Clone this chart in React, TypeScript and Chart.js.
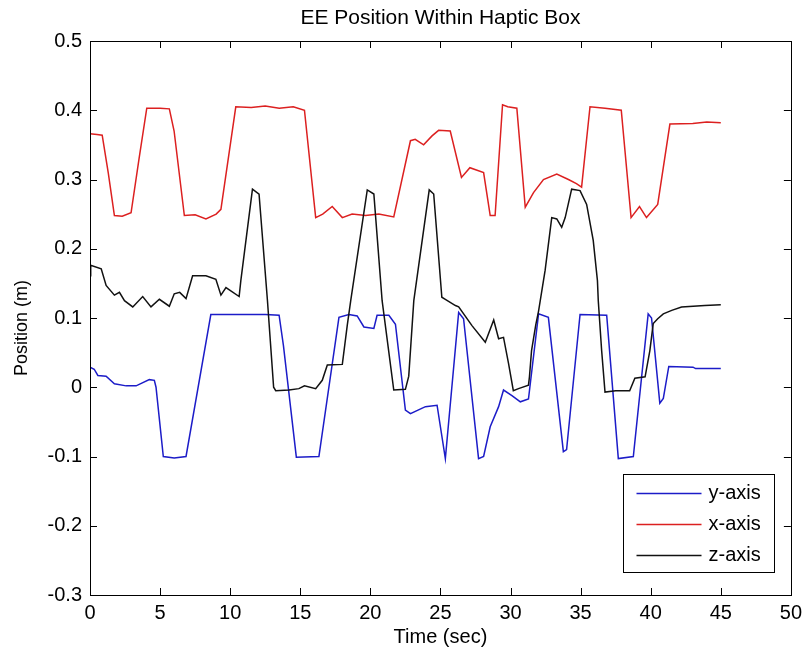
import React, { useEffect, useRef } from "react";
import { Chart, registerables } from "chart.js";

Chart.register(...registerables);

const TITLE = "EE Position Within Haptic Box";
const X_LABEL = "Time (sec)";
const Y_LABEL = "Position (m)";
const SERIES_NAMES = ["y-axis", "x-axis", "z-axis"];
const SERIES_COLORS = ["#1c1cc8", "#dc2020", "#111111"];

// y-axis (blue)
const yAxisTimes = [0, 0.3, 0.56, 1.15, 1.74, 2.58, 3.29, 4.23, 4.59, 4.71, 5.23, 6.01, 6.85, 8.62, 10.76, 12.5, 13.49, 13.8, 14.72, 16.33, 17.76, 18.47, 19.06, 19.54, 20.25, 20.48, 21.32, 21.79, 22.5, 22.86, 23.93, 24.76, 25.35, 26.3, 26.65, 27.72, 28.08, 28.55, 29.15, 29.5, 30.1, 30.7, 31.28, 32.0, 32.7, 33.77, 34.0, 34.96, 36.86, 37.69, 38.76, 39.82, 40.06, 40.65, 40.9, 41.29, 43.02, 43.2, 45.0];
const yAxisValues = [0.029, 0.026, 0.017, 0.016, 0.005, 0.002, 0.002, 0.011, 0.01, 0.0, -0.1, -0.102, -0.1, 0.105, 0.105, 0.105, 0.104, 0.06, -0.101, -0.1, 0.101, 0.105, 0.103, 0.087, 0.085, 0.104, 0.104, 0.091, -0.033, -0.038, -0.028, -0.026, -0.103, 0.108, 0.099, -0.103, -0.1, -0.057, -0.028, -0.004, -0.012, -0.021, -0.017, 0.106, 0.101, -0.093, -0.09, 0.105, 0.104, -0.103, -0.1, 0.106, 0.1, -0.023, -0.016, 0.03, 0.029, 0.027, 0.027];

// x-axis (red)
const xAxisTimes = [0, 0.5, 0.87, 1.3, 1.74, 2.3, 2.93, 3.5, 4.05, 5.0, 5.66, 6.0, 6.73, 7.5, 8.27, 9.0, 9.34, 10.4, 11.5, 12.5, 13.5, 14.5, 15.3, 16.1, 16.6, 17.28, 18.0, 18.7, 19.66, 20.6, 21.67, 22.86, 23.2, 23.8, 24.4, 24.87, 25.7, 26.5, 27.1, 28.08, 28.55, 28.9, 29.43, 29.8, 30.45, 31.05, 31.64, 32.35, 33.3, 34.13, 34.7, 35.07, 35.67, 36.74, 37.9, 38.6, 39.2, 39.7, 40.5, 41.37, 43.0, 44.0, 45.0];
const xAxisValues = [0.366, 0.365, 0.364, 0.31, 0.248, 0.247, 0.252, 0.33, 0.403, 0.403, 0.402, 0.37, 0.248, 0.249, 0.243, 0.25, 0.257, 0.405, 0.404, 0.406, 0.403, 0.405, 0.4, 0.245, 0.25, 0.261, 0.245, 0.25, 0.248, 0.25, 0.246, 0.356, 0.358, 0.35, 0.363, 0.371, 0.37, 0.303, 0.317, 0.31, 0.248, 0.248, 0.408, 0.405, 0.403, 0.26, 0.281, 0.3, 0.308, 0.3, 0.294, 0.289, 0.405, 0.403, 0.4, 0.245, 0.261, 0.245, 0.264, 0.38, 0.381, 0.383, 0.382];

// z-axis (black)
const zAxisTimes = [0, 0.05, 0.8, 1.15, 1.74, 2.1, 2.46, 3.05, 3.76, 4.35, 4.95, 5.66, 6.01, 6.4, 6.85, 7.32, 8.27, 8.98, 9.34, 9.7, 10.64, 10.76, 11.59, 12.06, 12.66, 13.1, 13.25, 14.2, 14.9, 15.3, 16.1, 16.57, 16.93, 18.0, 18.35, 18.6, 19.78, 20.25, 20.84, 21.67, 22.5, 22.74, 23.1, 24.2, 24.52, 25.1, 25.35, 26.07, 26.3, 27.25, 28.2, 28.8, 29.15, 29.5, 29.86, 30.2, 30.57, 31.28, 31.35, 31.5, 31.8, 32.0, 32.47, 32.94, 33.3, 33.65, 33.9, 34.36, 34.96, 35.43, 35.9, 36.2, 36.26, 36.5, 36.74, 37.5, 38.5, 38.87, 39.6, 39.94, 40.18, 40.5, 40.9, 41.5, 42.2, 43.86, 45.0];
const zAxisValues = [0.161, 0.176, 0.171, 0.147, 0.133, 0.137, 0.125, 0.116, 0.131, 0.116, 0.127, 0.117, 0.135, 0.137, 0.128, 0.161, 0.161, 0.156, 0.133, 0.144, 0.131, 0.154, 0.286, 0.279, 0.125, 0.0, -0.005, -0.004, -0.002, 0.002, -0.002, 0.01, 0.032, 0.033, 0.089, 0.125, 0.285, 0.279, 0.125, -0.004, -0.003, 0.016, 0.125, 0.285, 0.279, 0.13, 0.127, 0.118, 0.116, 0.089, 0.065, 0.097, 0.07, 0.072, 0.034, -0.005, -0.002, 0.003, 0.015, 0.053, 0.09, 0.11, 0.169, 0.245, 0.243, 0.231, 0.245, 0.286, 0.284, 0.264, 0.212, 0.154, 0.125, 0.053, -0.007, -0.005, -0.005, 0.013, 0.015, 0.053, 0.092, 0.099, 0.106, 0.111, 0.116, 0.118, 0.119];

const X_MIN = 0, X_MAX = 50, X_STEP = 5;
const Y_MIN = -0.3, Y_MAX = 0.5, Y_STEP = 0.1;

const FONT = "'Liberation Sans', Arial, Helvetica, sans-serif";

function pts(t: number[], v: number[]) {
  return t.map((x, i) => ({ x, y: v[i] }));
}

export default function App() {
  const ref = useRef<HTMLCanvasElement>(null);
  useEffect(() => {
    const canvas = ref.current!;
    const framePlugin = {
      id: "matlabFrame",
      afterDraw(chart: any) {
        const { ctx, chartArea: a, scales } = chart;
        ctx.save();
        ctx.strokeStyle = "#000";
        ctx.lineWidth = 1;
        ctx.beginPath();
        const tl = 7;
        scales.x.ticks.forEach((t: any) => {
          const px = Math.round(scales.x.getPixelForValue(t.value)) + 0.5;
          ctx.moveTo(px, a.bottom); ctx.lineTo(px, a.bottom - tl);
          ctx.moveTo(px, a.top); ctx.lineTo(px, a.top + tl);
        });
        scales.y.ticks.forEach((t: any) => {
          const py = Math.round(scales.y.getPixelForValue(t.value)) + 0.5;
          ctx.moveTo(a.left, py); ctx.lineTo(a.left + tl, py);
          ctx.moveTo(a.right, py); ctx.lineTo(a.right - tl, py);
        });
        ctx.stroke();
        ctx.strokeRect(Math.round(a.left) + 0.5, Math.round(a.top) + 0.5, Math.round(a.right - a.left), Math.round(a.bottom - a.top));
        // title
        ctx.fillStyle = "#000";
        ctx.font = `21px ${FONT}`;
        ctx.textAlign = "center";
        ctx.textBaseline = "middle";
        ctx.fillText(TITLE, (a.left + a.right) / 2, 18);
        // y label
        ctx.save();
        ctx.translate(22, (a.top + a.bottom) / 2 + 10);
        ctx.rotate(-Math.PI / 2);
        ctx.font = `18px ${FONT}`;
        ctx.fillText(Y_LABEL, 0, 0);
        ctx.restore();
        // legend
        const bw = 151, bh = 98;
        const bx = Math.round(a.right - 17 - bw) + 0.5;
        const by = Math.round(a.bottom - 23 - bh) + 0.5;
        ctx.fillStyle = "#fff";
        ctx.fillRect(bx, by, bw, bh);
        ctx.strokeStyle = "#000";
        ctx.strokeRect(bx, by, bw, bh);
        ctx.font = `20px ${FONT}`;
        ctx.textAlign = "left";
        SERIES_NAMES.forEach((name, i) => {
          const ry = by + 19 + i * 31;
          ctx.strokeStyle = SERIES_COLORS[i];
          ctx.lineWidth = 1.5;
          ctx.beginPath();
          ctx.moveTo(bx + 13, ry); ctx.lineTo(bx + 78, ry);
          ctx.stroke();
          ctx.fillStyle = "#000";
          ctx.fillText(name, bx + 85, ry);
        });
        ctx.restore();
      },
    };

    const chart = new Chart(canvas, {
      type: "line",
      data: {
        datasets: [
          { label: SERIES_NAMES[0], data: pts(yAxisTimes, yAxisValues), borderColor: SERIES_COLORS[0], order: 3 },
          { label: SERIES_NAMES[1], data: pts(xAxisTimes, xAxisValues), borderColor: SERIES_COLORS[1], order: 2 },
          { label: SERIES_NAMES[2], data: pts(zAxisTimes, zAxisValues), borderColor: SERIES_COLORS[2], order: 1 },
        ],
      },
      options: {
        responsive: false,
        animation: false,
        devicePixelRatio: 1,
        layout: { padding: { top: 41, right: 15, left: 0, bottom: 0 } },
        elements: {
          point: { radius: 0 },
          line: { borderWidth: 1.5, tension: 0, fill: false },
        },
        plugins: {
          legend: { display: false },
          title: { display: false },
          tooltip: { enabled: false },
        },
        scales: {
          x: {
            type: "linear",
            min: X_MIN,
            max: X_MAX,
            afterFit: (s: any) => { s.height = 60; },
            ticks: {
              stepSize: X_STEP,
              padding: 6,
              color: "#000",
              font: { family: FONT, size: 20 },
              maxRotation: 0,
              callback: (v: any) => String(v),
            },
            grid: { display: false, drawTicks: false },
            border: { display: false },
            title: {
              display: true,
              text: X_LABEL,
              color: "#000",
              font: { family: FONT, size: 20 },
              padding: { top: 0, bottom: 6 },
            },
          },
          y: {
            type: "linear",
            min: Y_MIN,
            max: Y_MAX,
            afterFit: (s: any) => { s.width = 90; },
            ticks: {
              stepSize: Y_STEP,
              padding: 8,
              color: "#000",
              font: { family: FONT, size: 20 },
              callback: (v: any) => String(Number(Number(v).toFixed(1))),
            },
            grid: { display: false, drawTicks: false },
            border: { display: false },
          },
        },
      },
      plugins: [framePlugin],
    } as any);
    return () => chart.destroy();
  }, []);
  return (
    <div style={{ position: "absolute", left: 0, top: 0, width: 808, height: 655, background: "#fff" }}>
      <canvas ref={ref} width={808} height={655} style={{ display: "block", width: 808, height: 655 }} />
    </div>
  );
}
